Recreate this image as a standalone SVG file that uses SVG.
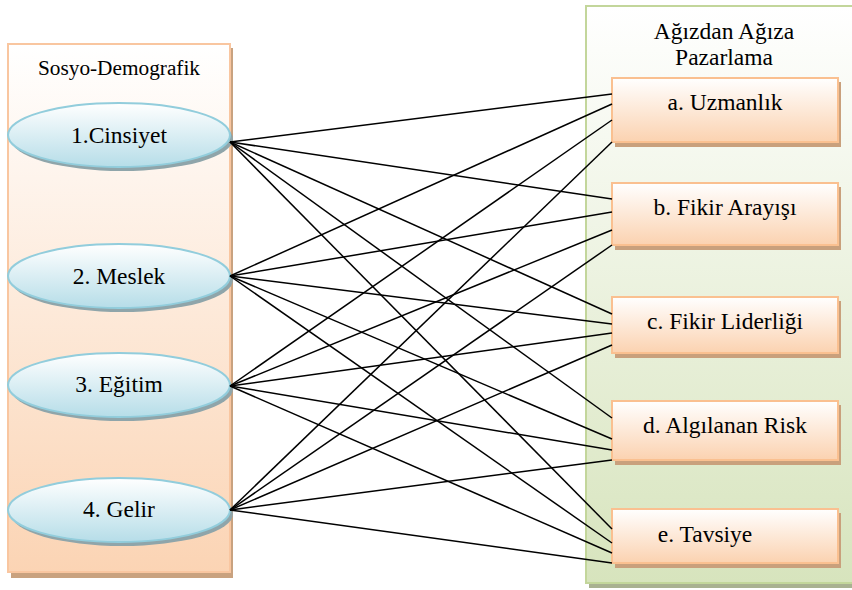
<svg xmlns="http://www.w3.org/2000/svg" width="852" height="590" viewBox="0 0 852 590">
<defs>
<linearGradient id="gLeft" x1="0" y1="0" x2="0" y2="1"><stop offset="0" stop-color="#ffffff"/><stop offset="1" stop-color="#fbd4b4"/></linearGradient>
<linearGradient id="gRight" x1="0" y1="0" x2="0" y2="1"><stop offset="0" stop-color="#ffffff"/><stop offset="1" stop-color="#d7e4bd"/></linearGradient>
<linearGradient id="gEll" x1="0" y1="0" x2="0" y2="1"><stop offset="0" stop-color="#ffffff"/><stop offset="1" stop-color="#b6dde8"/></linearGradient>
<linearGradient id="gBox" x1="0" y1="0" x2="0" y2="1"><stop offset="0" stop-color="#ffffff"/><stop offset="1" stop-color="#fbd2b0"/></linearGradient>
</defs>
<style>
text{font-family:"Liberation Serif","Times New Roman",serif;fill:#000;text-anchor:middle}
.hdr{font-size:21.3px}
.lbl{font-size:23.5px}
.ell{fill:url(#gEll);stroke:#92cddc;stroke-width:2}
.ellsh{fill:#8fa5aa}
.box{fill:url(#gBox);stroke:#fac090;stroke-width:2}
.boxsh{fill:#c9a07c}
.conn line{stroke:#000;stroke-width:1.5}
</style>
<g id="container-left">
<rect x="11" y="48" width="222" height="530" fill="#c9a27f"/>
<rect x="8" y="44" width="222" height="528" fill="url(#gLeft)" stroke="#f9c6a0" stroke-width="2"/>
<text class="hdr" x="119" y="75">Sosyo-Demografik</text>
</g>
<g id="container-right">
<rect x="589" y="10" width="266" height="578" fill="#a9b191"/>
<rect x="586" y="6" width="270" height="577" fill="url(#gRight)" stroke="#c3d69b" stroke-width="2"/>
<text class="lbl" x="724" y="39">Ağızdan Ağıza</text>
<text class="lbl" x="724" y="65">Pazarlama</text>
</g>
<g id="n1">
<ellipse class="ellsh" cx="122" cy="139" rx="111" ry="32"/>
<ellipse class="ell" cx="119" cy="135" rx="111" ry="32"/>
<text class="lbl" x="119" y="143">1.Cinsiyet</text>
</g>
<g id="n2">
<ellipse class="ellsh" cx="122" cy="280" rx="111" ry="32"/>
<ellipse class="ell" cx="119" cy="276" rx="111" ry="32"/>
<text class="lbl" x="119" y="284">2. Meslek</text>
</g>
<g id="n3">
<ellipse class="ellsh" cx="122" cy="389" rx="111" ry="32"/>
<ellipse class="ell" cx="119" cy="385" rx="111" ry="32"/>
<text class="lbl" x="119" y="392">3. Eğitim</text>
</g>
<g id="n4">
<ellipse class="ellsh" cx="122" cy="514" rx="111" ry="32"/>
<ellipse class="ell" cx="119" cy="510" rx="111" ry="32"/>
<text class="lbl" x="119" y="517">4. Gelir</text>
</g>
<g id="na">
<rect class="boxsh" x="615" y="82" width="226" height="65"/>
<rect class="box" x="612" y="78" width="226" height="64"/>
<text class="lbl" x="725" y="110">a. Uzmanlık</text>
</g>
<g id="nb">
<rect class="boxsh" x="615" y="187" width="226" height="63"/>
<rect class="box" x="612" y="183" width="226" height="62"/>
<text class="lbl" x="725" y="215">b. Fikir Arayışı</text>
</g>
<g id="nc">
<rect class="boxsh" x="615" y="301" width="226" height="57"/>
<rect class="box" x="612" y="297" width="226" height="56"/>
<text class="lbl" x="725" y="329">c. Fikir Liderliği</text>
</g>
<g id="nd">
<rect class="boxsh" x="615" y="405" width="226" height="60"/>
<rect class="box" x="612" y="401" width="226" height="59"/>
<text class="lbl" x="725" y="433">d. Algılanan Risk</text>
</g>
<g id="ne">
<rect class="boxsh" x="615" y="513" width="226" height="55"/>
<rect class="box" x="612" y="509" width="226" height="54"/>
<text class="lbl" x="705" y="542">e. Tavsiye</text>
</g>
<g id="connectors" class="conn">
<line x1="230" y1="142" x2="612" y2="94"/>
<line x1="230" y1="276" x2="612" y2="104"/>
<line x1="230" y1="386" x2="612" y2="120"/>
<line x1="230" y1="510" x2="612" y2="142"/>
<line x1="230" y1="142" x2="612" y2="199"/>
<line x1="230" y1="276" x2="612" y2="212"/>
<line x1="230" y1="386" x2="612" y2="230"/>
<line x1="230" y1="510" x2="612" y2="245"/>
<line x1="230" y1="142" x2="612" y2="314"/>
<line x1="230" y1="276" x2="612" y2="324"/>
<line x1="230" y1="386" x2="612" y2="333"/>
<line x1="230" y1="510" x2="612" y2="345"/>
<line x1="230" y1="142" x2="612" y2="418"/>
<line x1="230" y1="276" x2="612" y2="439"/>
<line x1="230" y1="386" x2="612" y2="450"/>
<line x1="230" y1="510" x2="612" y2="460"/>
<line x1="230" y1="142" x2="612" y2="529"/>
<line x1="230" y1="276" x2="612" y2="543"/>
<line x1="230" y1="386" x2="612" y2="553"/>
<line x1="230" y1="510" x2="612" y2="563"/>
</g>
</svg>
